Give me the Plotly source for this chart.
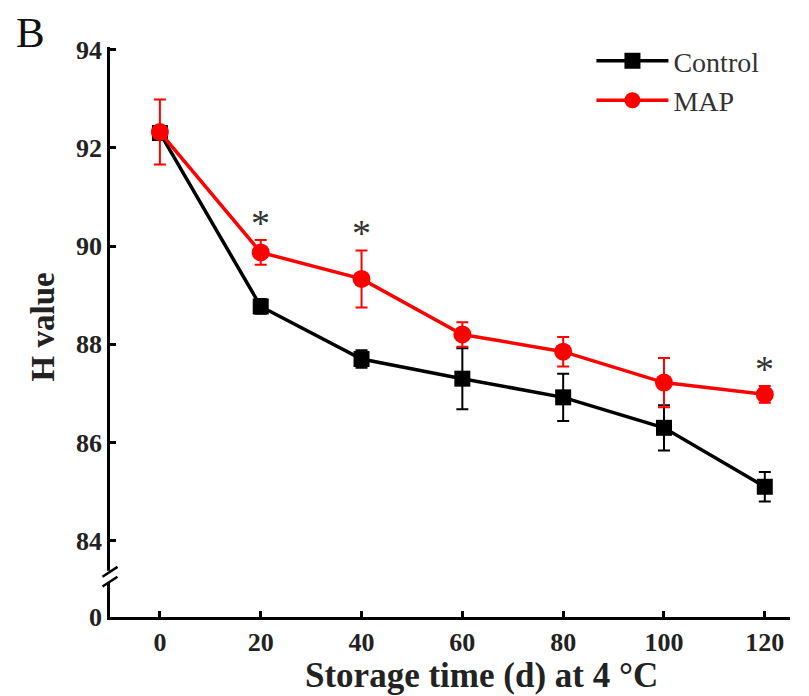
import plotly.graph_objects as go

days = [0, 20, 40, 60, 80, 100, 120]
control = [92.3, 88.77, 87.7, 87.3, 86.92, 86.3, 85.1]
control_err = [0.1, 0.15, 0.18, 0.62, 0.48, 0.46, 0.3]
map_vals = [92.32, 89.87, 89.33, 88.2, 87.85, 87.22, 86.98]
map_err = [0.66, 0.25, 0.58, 0.25, 0.3, 0.5, 0.17]
sig_days = [20, 40, 120]

y_ticks = [84, 86, 88, 90, 92, 94]
zero_pos = 82.45   # display position of the "0" label below the axis break
break_pos = 83.27

font_fam = "Liberation Serif, Times New Roman, serif"

fig = go.Figure()
fig.add_trace(go.Scatter(
    x=days, y=control, name="Control", mode="lines+markers",
    line=dict(color="black", width=3.5),
    marker=dict(symbol="square", size=16, color="black"),
    error_y=dict(type="data", array=control_err, color="black", thickness=2, width=6),
))
fig.add_trace(go.Scatter(
    x=days, y=map_vals, name="MAP", mode="lines+markers",
    line=dict(color="#ff0000", width=3.5),
    marker=dict(symbol="circle", size=18, color="#ff0000"),
    error_y=dict(type="data", array=map_err, color="#ff0000", thickness=2, width=6),
))

for d in sig_days:
    i = days.index(d)
    fig.add_annotation(x=d, y=map_vals[i] + map_err[i], text="*", showarrow=False,
                       yanchor="bottom", yshift=-6,
                       font=dict(family=font_fam, size=38, color="#333333"))

# axis break marks
fig.add_shape(type="rect", xref="paper", yref="y", x0=-0.012, x1=0.012,
              y0=break_pos - 0.12, y1=break_pos + 0.12,
              fillcolor="white", line=dict(width=0), layer="above")
for off in (-0.1, 0.1):
    fig.add_shape(type="line", xref="paper", yref="y", x0=-0.011, x1=0.011,
                  y0=break_pos + off - 0.1, y1=break_pos + off + 0.1,
                  line=dict(color="black", width=2.5), layer="above")

fig.add_annotation(text="B", xref="paper", yref="paper", x=-0.1176, y=1.0246,
                   xanchor="center", yanchor="middle", showarrow=False,
                   font=dict(family=font_fam, size=43, color="#111111"))

# axis titles
fig.add_annotation(text="<b>Storage time (d) at 4 °C</b>", xref="paper", yref="paper",
                   x=0.546, y=-0.1035, xanchor="center", yanchor="middle", showarrow=False,
                   font=dict(family=font_fam, size=35, color="#222222"))
fig.add_annotation(text="<b>H value</b>", xref="paper", yref="paper", textangle=-90,
                   x=-0.0985, y=0.508, xanchor="center", yanchor="middle", showarrow=False,
                   font=dict(family=font_fam, size=33, color="#222222"))

fig.update_layout(
    width=809, height=696,
    margin=dict(l=102, r=27, t=39, b=87),
    paper_bgcolor="white", plot_bgcolor="white",
    font=dict(family=font_fam, color="black"),
    showlegend=True,
    legend=dict(x=0.708, y=1.019, xanchor="left", yanchor="top",
                font=dict(family=font_fam, size=28, color="#333333"),
                itemwidth=72,
                bgcolor="rgba(0,0,0,0)", tracegroupgap=0),
    xaxis=dict(range=[-9.9, 125], tickvals=days, ticktext=[str(d) for d in days],
               automargin=False,
               showline=True, linecolor="black", linewidth=2.5,
               ticks="inside", ticklen=6, tickwidth=2.5, tickcolor="black",
               showgrid=False, zeroline=False,
               tickfont=dict(family=font_fam, size=26, color="#222222", weight="bold")),
    yaxis=dict(range=[zero_pos, 94.05],
               tickvals=[zero_pos] + y_ticks,
               ticktext=["0"] + [str(t) for t in y_ticks],
               automargin=False,
               showline=True, linecolor="black", linewidth=2.5,
               ticks="inside", ticklen=6, tickwidth=2.5, tickcolor="black",
               showgrid=False, zeroline=False,
               tickfont=dict(family=font_fam, size=26, color="#222222", weight="bold")),
)

fig.write_html("out.html")
